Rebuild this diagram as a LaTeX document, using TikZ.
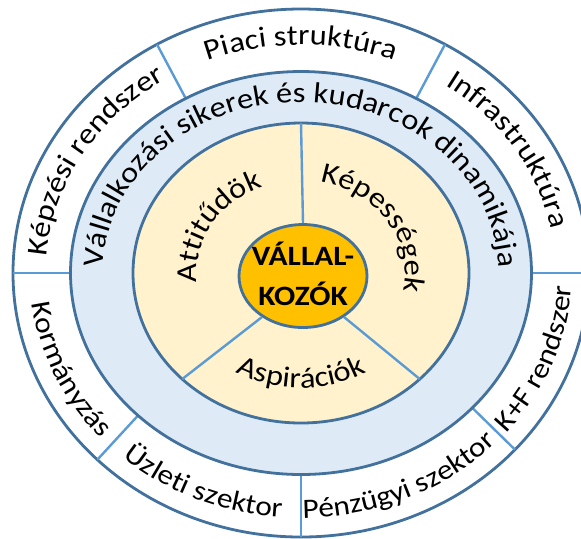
\documentclass[tikz,border=0pt]{standalone}
\usepackage{fontspec}
\setmainfont{Carlito}[FakeStretch=1.12]
\usetikzlibrary{decorations.text,shapes.geometric}
\definecolor{ringedge}{RGB}{65,113,156}
\definecolor{divline}{RGB}{91,155,213}
\definecolor{ringfill}{RGB}{222,235,247}
\definecolor{corefill}{RGB}{255,242,204}
\definecolor{kozep}{RGB}{255,192,0}
\newcommand{\botfont}{\fontsize{14}{17}\selectfont}
\tikzset{
  edge/.style={draw=ringedge,line width=1.4pt},
  divider/.style={draw=divline,line width=1.2pt},
  arclabel/.style={decorate,decoration={text along path,text align=center,text={#1}}}
}
\begin{document}
\fontsize{14.5}{17}\selectfont
\begin{tikzpicture}[x=0.5pt,y=0.5pt]
    \clip (-301,-265) rectangle (280,273);

    % outer ring
    \draw[edge,fill=white] (0,0) ellipse[x radius=288,y radius=264];
    \foreach \a in {0,60,120,180,225,270,318}
        \draw[divider] (\a:230 and 201) -- (\a:288 and 264);

    % middle and inner ring
    \draw[edge,fill=ringfill] (0,0) ellipse[x radius=230.5,y radius=201.5];
    \draw[edge,fill=corefill] (0,0) ellipse[x radius=168,y radius=150];

    \node[ellipse,edge,fill=kozep,minimum width=64pt,minimum height=51.5pt,inner sep=0pt] (vk) at (2,-3) {};
    \node[font=\fontsize{14}{20}\selectfont\bfseries,align=center] (vktext) at (2,-1) {VÁLLAL-\\KOZÓK};

    \foreach \a in {90,225,315}{
        \coordinate (y\a) at (\a:168 and 150);
        \draw[divider] (vk.\a) -- (y\a);
    }

    % labels of the outer ring
    \path[arclabel={Piaci struktúra}] (150:255 and 228) arc[start angle=150,end angle=30,x radius=255,y radius=228];
    \path[arclabel={Képzési rendszer}] (200:255 and 228) arc[start angle=200,end angle=100,x radius=255,y radius=228];
    \path[arclabel={Infrastruktúra}] (82:255 and 228) arc[start angle=82,end angle=-18,x radius=255,y radius=228];
    \path[arclabel={|\botfont|Kormányzás}] (160:271 and 245) arc[start angle=160,end angle=248,x radius=271,y radius=245];
    \path[arclabel={|\botfont|Üzleti szektor}] (198.5:271 and 245) arc[start angle=198.5,end angle=294.5,x radius=271,y radius=245];
    \path[arclabel={|\botfont|Pénzügyi szektor}] (250:271 and 245) arc[start angle=250,end angle=338,x radius=271,y radius=245];
    \path[arclabel={|\botfont|K+F rendszer}] (290:271 and 245) arc[start angle=290,end angle=388,x radius=271,y radius=245];

    % label of the middle ring
    \path[arclabel={Vállalkozási sikerek és kudarcok dinamikája}] (250:198 and 171) arc[start angle=250,end angle=-70,x radius=198,y radius=171];

    % labels of the inner ring
    \path[arclabel={Attitűdök}] (220:104 and 93) arc[start angle=220,end angle=80,x radius=104,y radius=93];
    \path[arclabel={Képességek}] (103:104 and 93) arc[start angle=103,end angle=-37,x radius=104,y radius=93];
    \path[arclabel={Aspirációk}] (200:129 and 115) arc[start angle=200,end angle=340,x radius=129,y radius=115];
\end{tikzpicture}
\end{document}
